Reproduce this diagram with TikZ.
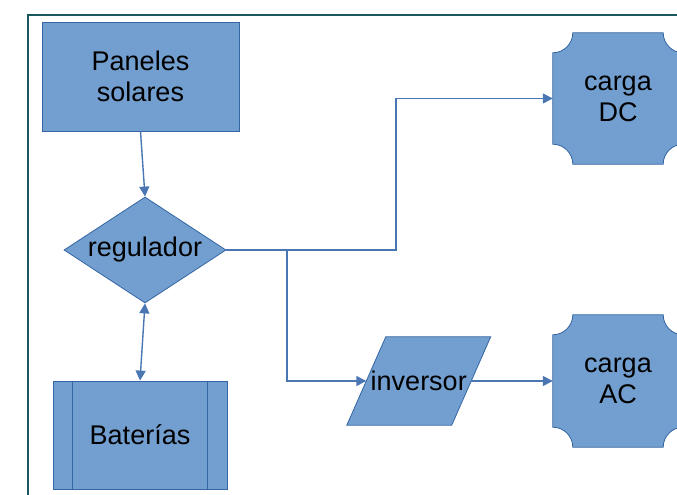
\documentclass[tikz,border=0pt]{standalone}
\usepackage{fontspec}
\setmainfont{Liberation Sans}
\usetikzlibrary{shapes.geometric,arrows.meta,calc,backgrounds}
\definecolor{boxfill}{HTML}{729FCF}
\definecolor{boxline}{HTML}{3465A4}
\definecolor{conn}{HTML}{4A77B4}
\definecolor{framec}{HTML}{16585C}
\tikzset{
  box/.style={rectangle, fill=boxfill, draw=boxline, line width=0.8pt, inner sep=0pt, align=center,
    font=\fontsize{27}{31}\selectfont},
  dia/.style={diamond, fill=boxfill, draw=boxline, line width=0.8pt, inner sep=0pt, aspect=1.53,
    font=\fontsize{27}{31}\selectfont},
  ghost/.style={rectangle, inner sep=0pt, align=center, font=\fontsize{27}{31}\selectfont},
  shapeline/.style={fill=boxfill, draw=boxline, line width=0.8pt},
  arr/.style={draw=conn, line width=1.4pt, -{Triangle[length=10pt,width=10pt]}},
  darr/.style={draw=conn, line width=1.4pt, {Triangle[length=10pt,width=10pt]}-{Triangle[length=10pt,width=10pt]}},
  framel/.style={draw=framec, line width=2pt}
}
\newcommand\plaque[1]{%
  \path[shapeline] ($(#1.north west)+(20pt,0)$) -- ($(#1.north east)+(-20pt,0)$)
    arc[start angle=180, end angle=270, radius=20pt]
    -- ($(#1.south east)+(0,20pt)$) arc[start angle=90, end angle=180, radius=20pt]
    -- ($(#1.south west)+(20pt,0)$) arc[start angle=0, end angle=90, radius=20pt]
    -- ($(#1.north west)+(0,-20pt)$) arc[start angle=270, end angle=360, radius=20pt]
    -- cycle;}
\begin{document}
\begin{tikzpicture}[x=1pt,y=1pt]
\useasboundingbox (0,0) rectangle (677,495);
\begin{scope}[on background layer]
  \fill[white] (0,0) rectangle (677,495);
\end{scope}
\draw[framel] (28,-5) -- (28,480) -- (690,480);

\node[box, minimum width=197pt, minimum height=109pt] (pan) at (140.5,418.5) {Paneles\\solares};
\node[dia, minimum width=162pt, minimum height=106pt] (reg) at (145,245) {regulador};
\node[box, minimum width=174pt, minimum height=108pt] (bat) at (140,60) {Baterías};
\draw[boxline, line width=0.8pt] ([xshift=20pt]bat.north west) -- ([xshift=20pt]bat.south west);
\draw[boxline, line width=0.8pt] ([xshift=-20pt]bat.north east) -- ([xshift=-20pt]bat.south east);

\node[ghost, minimum width=104.5pt, minimum height=88pt] (inv) at (418.75,114) {inversor};
\node[ghost, minimum width=130pt, minimum height=131pt] (dc) at (618,396.5) {carga\\DC};
\node[ghost, minimum width=130pt, minimum height=132pt] (ac) at (618,114) {carga\\AC};

\begin{scope}[on background layer]
  \path[shapeline] ([xshift=19.5pt]inv.north west) -- ([xshift=19.5pt]inv.north east)
    -- ([xshift=-19.5pt]inv.south east) -- ([xshift=-19.5pt]inv.south west) -- cycle;
  \plaque{dc}
  \plaque{ac}
\end{scope}

\coordinate (j1) at (396,245);
\coordinate (j2) at (287,245);
\draw[arr] (pan.south) -- (reg.north);
\draw[darr] (reg.south) -- (bat.north);
\draw[arr] (reg.east) -- (j1) |- (dc.west);
\draw[arr] (j2) |- (inv.west);
\draw[arr] (inv.east) -- (ac.west);
\end{tikzpicture}
\end{document}
